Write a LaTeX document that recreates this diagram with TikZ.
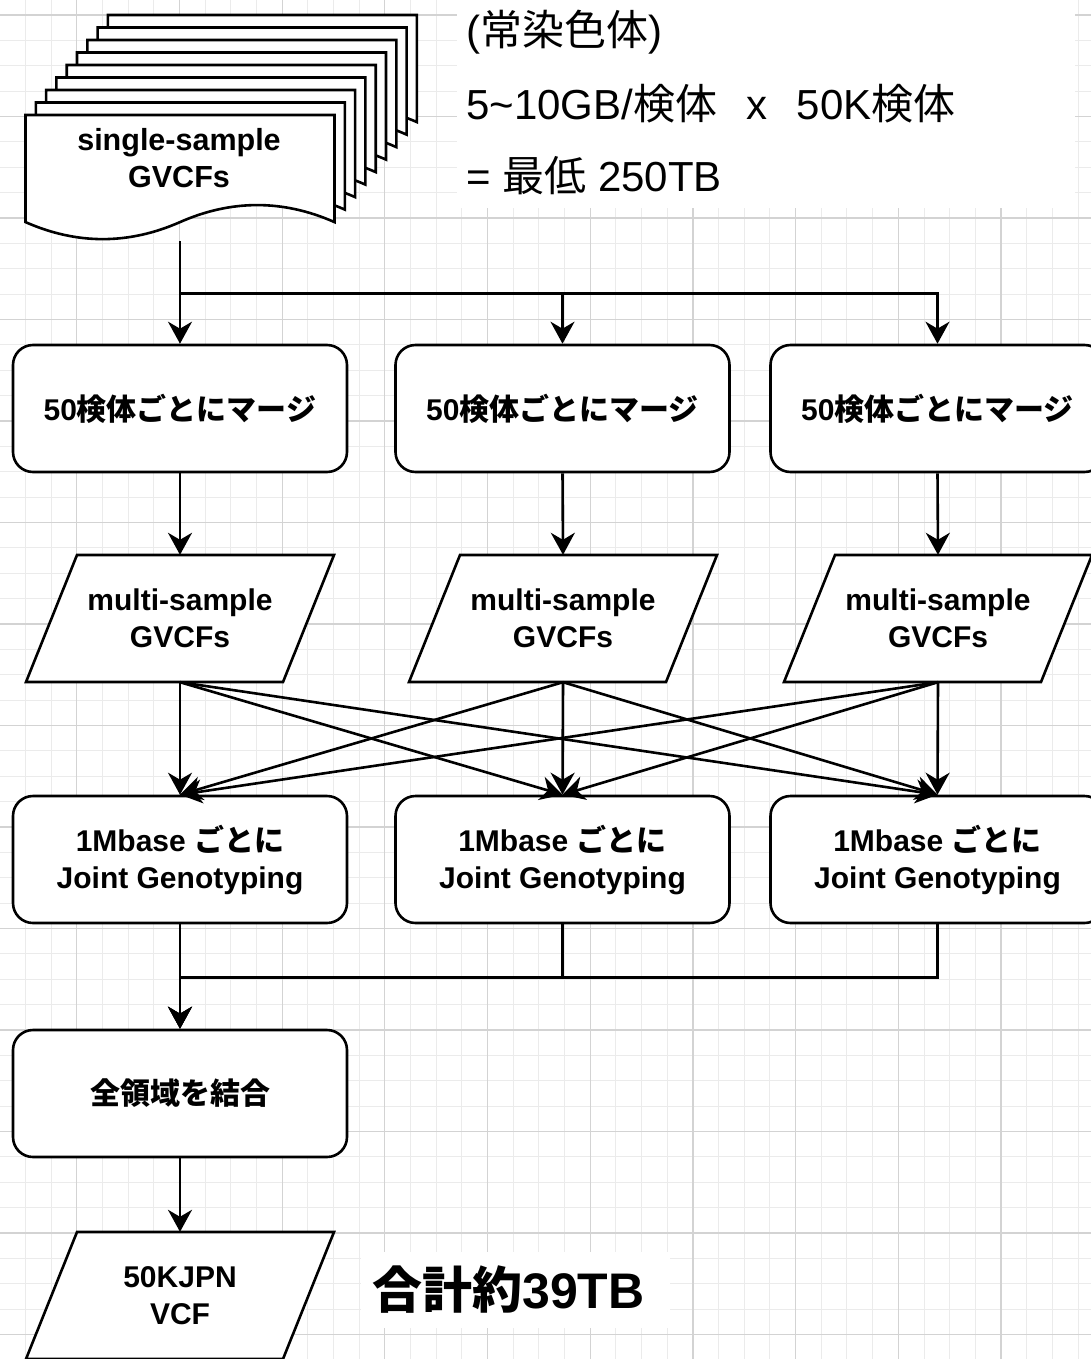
\documentclass[tikz,border=0pt]{standalone}
\usepackage{fontspec}
\setmainfont{Liberation Sans}
\newfontfamily\cjk{Noto Sans CJK JP}
\usetikzlibrary{arrows.meta}
\definecolor{gridminor}{HTML}{EBEBEB}
\definecolor{gridmajor}{HTML}{D3D3D3}
\newcommand\jp[1]{{\cjk #1}}
\newcommand\parashape[4]{%
  \draw[outline, line join=miter] (#2-103,#3-63.5) -- (#2+154,#3-63.5) -- (#2+103,#3+63.5) -- (#2-154,#3+63.5) -- cycle;
  \node[holder] (#1) at (#2,#3) {#4};}
\begin{document}
\begin{tikzpicture}[x=1pt,y=-1pt,
  conn/.style={line width=2.6pt, -{Stealth[length=22pt,width=24pt,inset=7pt]}},
  outline/.style={draw=black, line width=2.6pt, fill=white},
  rbox/.style={outline, rounded corners=20pt, minimum width=334pt, minimum height=127pt, inner sep=0pt, align=center, font=\fontsize{30}{37}\selectfont\bfseries},
  holder/.style={minimum width=308pt, minimum height=127pt, inner sep=0pt, align=center, font=\fontsize{30}{37}\selectfont\bfseries},
  note/.style={anchor=west, inner sep=0pt, font=\fontsize{42}{50}\selectfont}
]
\useasboundingbox (0,0) rectangle (1091,1359);
\clip (0,0) rectangle (1091,1359);
\fill[white] (0,0) rectangle (1091,1359);
% grid
\foreach \i in {0,...,43} \draw[gridminor, line width=1pt] ({-0.3+25.675*\i},0) -- ++(0,1359);
\foreach \j in {-1,...,54} \draw[gridminor, line width=1pt] (0,{15+25.375*\j}) -- ++(1091,0);
\foreach \i in {0,...,10} \draw[gridmajor, line width=1.2pt] ({76.7+102.7*\i},0) -- ++(0,1359);
\foreach \j in {0,...,13} \draw[gridmajor, line width=1.2pt] (0,{15+101.5*\j}) -- ++(1091,0);
% white label backgrounds
\fill[white] (457,0) rectangle (1075,208);
\fill[white] (361,1252) rectangle (670,1328);
% stacked documents
\foreach \k in {8,7,...,0}{
  \pgfmathsetmacro\xo{25.5+10.3*\k}
  \pgfmathsetmacro\yo{115-12.5*\k}
  \draw[outline, line join=miter] (\xo,\yo) -- (\xo+309,\yo) -- (\xo+309,\yo+107.1)
    .. controls (\xo+257.5,\yo+84.4) and (\xo+206,\yo+84.4) .. (\xo+154.5,\yo+107.1)
    .. controls (\xo+103,\yo+129.8) and (\xo+51.5,\yo+129.8) .. (\xo,\yo+107.1) -- cycle;
}
\node[minimum width=309pt, minimum height=126pt, inner sep=0pt] (doc) at (180,178) {};
\node[align=center, inner sep=0pt, font=\fontsize{30.5}{37}\selectfont\bfseries] (doctext) at (179,158.5) {single-sample\\GVCFs};
% notes
\node[note] (n1) at (466,32) {(\jp{常染色体})};
\node[note] (n2) at (466,104) {5\textasciitilde 10GB/\jp{検体}\ \ \hspace{6pt}x\ \ \hspace{6pt}50K\jp{検体}};
\node[note] (n3) at (466,176) {= \jp{最低} 250TB};
% row 1
\node[rbox] (m1) at (180,408.5) {50\jp{検体ごとにマージ}};
\node[rbox] (m2) at (562.5,408.5) {50\jp{検体ごとにマージ}};
\node[rbox] (m3) at (937.5,408.5) {50\jp{検体ごとにマージ}};
% row 2
\parashape{p1}{180}{618.5}{multi-sample\\GVCFs}
\parashape{p2}{563}{618.5}{multi-sample\\GVCFs}
\parashape{p3}{938}{618.5}{multi-sample\\GVCFs}
% row 3
\node[rbox] (j1) at (180,859.5) {1Mbase \jp{ごとに}\\Joint Genotyping};
\node[rbox] (j2) at (562.5,859.5) {1Mbase \jp{ごとに}\\Joint Genotyping};
\node[rbox] (j3) at (937.5,859.5) {1Mbase \jp{ごとに}\\Joint Genotyping};
% bottom
\node[rbox] (c) at (180,1093.5) {\jp{全領域を結合}};
\parashape{v}{180}{1295.5}{50KJPN\\VCF}
\node[anchor=west, inner sep=0pt, font=\fontsize{50}{60}\selectfont\bfseries] (total) at (372,1290) {\jp{合計約}39TB};
% connectors
\draw[conn] (doc.south) -- (m1.north);
\draw[conn] (doc.south) -- ++(0,52) -| (m2.north);
\draw[conn] (doc.south) -- ++(0,52) -| (m3.north);
\foreach \i in {1,2,3} \draw[conn] (m\i.south) -- (p\i.north);
\foreach \i in {1,2,3} {\foreach \k in {1,2,3} {\draw[conn] (p\i.south) -- (j\k.north);}}
\draw[conn] (j1.south) -- (c.north);
\draw[conn] (j2.south) -- ++(0,53) -| (c.north);
\draw[conn] (j3.south) -- ++(0,53) -| (c.north);
\draw[conn] (c.south) -- (v.north);
\end{tikzpicture}
\end{document}
